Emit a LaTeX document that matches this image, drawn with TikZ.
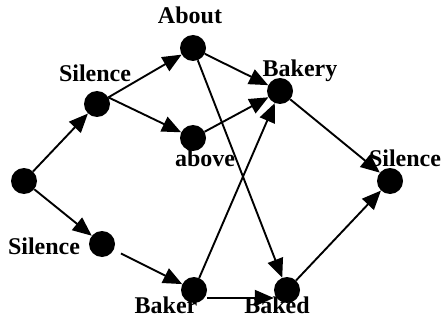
\documentclass[tikz,border=0pt]{standalone}
\usepackage{fontspec}
\setmainfont{Liberation Serif}
\usetikzlibrary{arrows.meta,positioning}

\begin{document}
\begin{tikzpicture}[
  x=1pt,y=-1pt,
  dot/.style={circle,fill=black,minimum size=26pt,inner sep=0pt},
  lab/.style={font=\fontsize{24}{26}\selectfont\bfseries,inner sep=0pt,anchor=base},
  arr/.style={-{Triangle[length=19pt,width=16pt]},line width=1.9pt}
]
\useasboundingbox (0,0) rectangle (443,320);
% words
\node[lab] (l-about) at (190,24) {About};
\node[lab] (l-sil1) at (95,82) {Silence};
\node[lab] (l-above) at (205,167) {above};
\node[lab] (l-bakery) at (300,77) {Bakery};
\node[lab] (l-silf) at (405,167) {Silence};
\node[lab] (l-sil2) at (44,254) {Silence};
\node[lab] (l-baker) at (166,313) {Baker};
\node[lab] (l-baked) at (277,313) {Baked};
% states
\node[dot] (s0) at (24,181) {};
\node[dot] (sil1) at (97,104) {};
\node[dot] (about) at (193,48) {};
\node[dot] (above) at (193,138) {};
\node[dot] (bakery) at (280,91) {};
\node[dot] (silf) at (390,181) {};
\node[dot] (sil2) at (102,244) {};
\node[dot] (baker) at (194,290) {};
\node[dot] (baked) at (287,290) {};
% transitions
\draw[arr] (s0)--(sil1); \draw[arr] (s0)--(sil2);
\draw[arr] (sil1)--(about); \draw[arr] (sil1.30)--(above);
\draw[arr,shorten <=8pt] (sil2)--(baker);
\draw[arr] (about)--(bakery); \draw[arr] (about)--(baked);
\draw[arr] (above)--(bakery); \draw[arr] (baker)--(bakery);
\draw[arr] ([yshift=-8pt]baker.east)--([yshift=-8pt]baked.west);
\draw[arr] (bakery)--(silf); \draw[arr] (baked)--(silf);
\end{tikzpicture}
\end{document}
